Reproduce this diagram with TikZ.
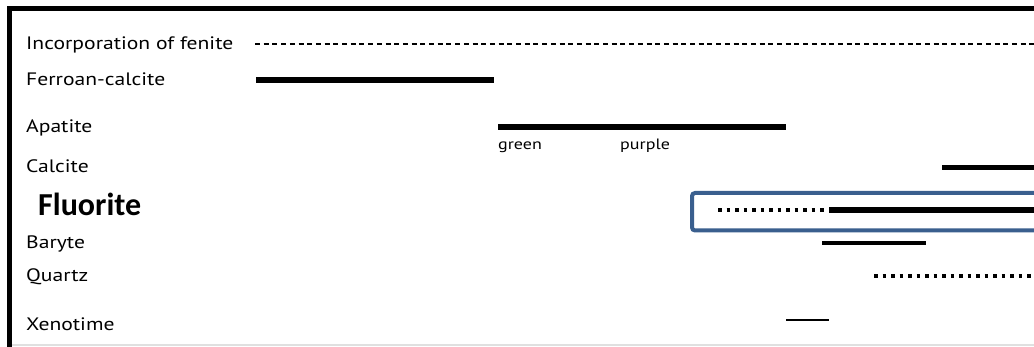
\documentclass[tikz,border=0pt]{standalone}
\usepackage{fontspec}
\setmainfont{PT Sans}[FakeStretch=1.2]
\newfontfamily\boldlabel{Carlito}[BoldFont=Carlito Bold]
\begin{document}
\begin{tikzpicture}[x=1pt,y=-1pt,
  mineral/.style={anchor=base west,inner sep=0pt,font=\fontsize{18}{21}\selectfont},
  note/.style={anchor=base west,inner sep=0pt,font=\fontsize{15}{17}\selectfont},
  solidbar/.style={line width=#1,line cap=butt},
  dashbar/.style={line width=2,dash pattern=on 5pt off 3.7pt},
  dotbar/.style={line width=3.5,dash pattern=on 3.5pt off 5pt}]
\definecolor{boxblue}{RGB}{58,95,142}
\useasboundingbox (0,0) rectangle (1034,347);
\clip (0,0) rectangle (1034,347);
\fill[white] (0,0) rectangle (1034,347);
% frame
\draw[line width=1.2,black!12] (12,345) -- (1040,345);
\draw[line width=5] (9,350) -- (9,9) -- (1045,9);
% labels
\node[mineral] (fen) at (26,50) {Incorporation of fenite};
\node[mineral] (fer) at (26,86) {Ferroan-calcite};
\node[mineral] (apa) at (26,133) {Apatite};
\node[mineral] (cal) at (26,173) {Calcite};
\node[anchor=base west,inner sep=0pt,font=\boldlabel\bfseries\fontsize{32}{36}\selectfont] (flu) at (38,216) {Fluorite};
\node[mineral] (bar) at (26,249) {Baryte};
\node[mineral] (qua) at (26,282) {Quartz};
\node[mineral] (xen) at (26,331) {Xenotime};
\node[note] (grn) at (498,150) {green};
\node[note] (pur) at (620,150) {purple};
% highlight box
\draw[boxblue,line width=4,rounded corners=3] (692,193) rectangle (1060,230.5);
% periods
\coordinate (fenA) at (255,44); \coordinate (fenB) at (1040,44);
\coordinate (ferA) at (256,80); \coordinate (ferB) at (494,80);
\coordinate (apaA) at (498,127); \coordinate (apaB) at (786,127);
\coordinate (calA) at (942,168); \coordinate (calB) at (1040,168);
\coordinate (fluA) at (718,210); \coordinate (fluM) at (827,210); \coordinate (fluN) at (829,210); \coordinate (fluB) at (1040,210);
\coordinate (barA) at (822,243); \coordinate (barB) at (926,243);
\coordinate (quaA) at (874,276); \coordinate (quaB) at (1040,276);
\coordinate (xenA) at (786,320); \coordinate (xenB) at (829,320);
\draw[dashbar] (fenA) -- (fenB);
\draw[solidbar=6] (ferA) -- (ferB);
\draw[solidbar=6] (apaA) -- (apaB);
\draw[solidbar=5] (calA) -- (calB);
\draw[dotbar] (fluA) -- (fluM);
\draw[solidbar=6] (fluN) -- (fluB);
\draw[solidbar=4] (barA) -- (barB);
\draw[dotbar] (quaA) -- (quaB);
\draw[solidbar=2] (xenA) -- (xenB);
\end{tikzpicture}
\end{document}
